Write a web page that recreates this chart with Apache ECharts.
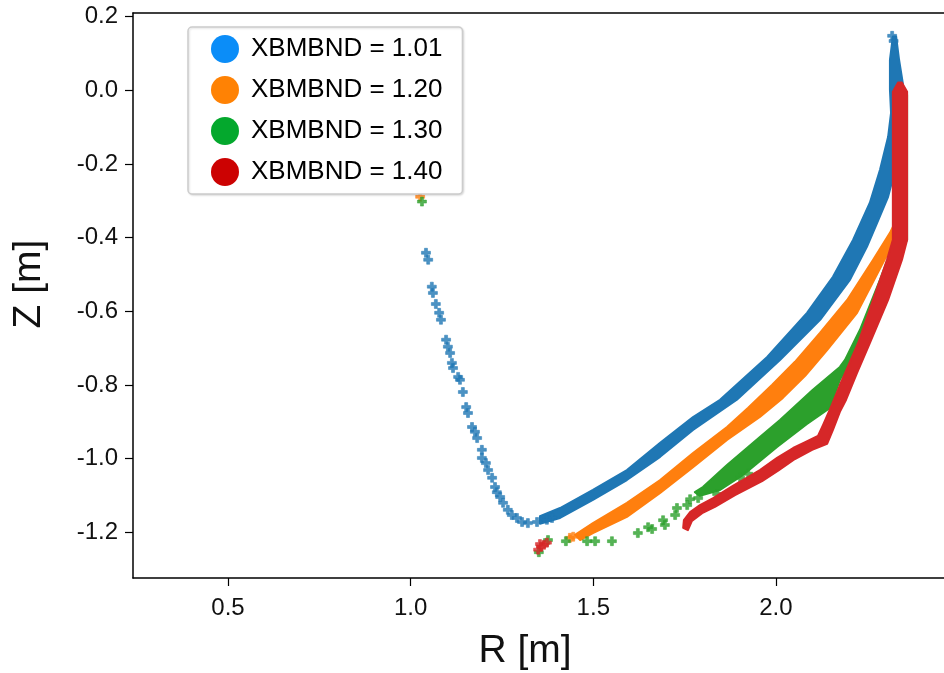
<!DOCTYPE html>
<html><head><meta charset="utf-8">
<script src="https://cdn.jsdelivr.net/npm/echarts@6/dist/echarts.min.js"></script>
<style>html,body{margin:0;padding:0;background:#fff}#c{width:944px;height:673px}</style>
</head><body><div id="c"></div>
<script>
// ---- data (R [m], Z [m]) ----
const seriesNames = ['XBMBND = 1.01', 'XBMBND = 1.20', 'XBMBND = 1.30', 'XBMBND = 1.40'];
const xTicks = [0.5, 1.0, 1.5, 2.0];
const yTicks = [0.2, 0.0, -0.2, -0.4, -0.6, -0.8, -1.0, -1.2];

// dense band outlines (outer edge then inner edge)
const blueBand = [[2.320,0.146],[2.312,0.083],[2.312,0.002],[2.315,-0.061],[2.307,-0.126],[2.285,-0.215],[2.257,-0.305],[2.211,-0.406],[2.156,-0.506],[2.085,-0.604],[1.976,-0.724],[1.847,-0.840],[1.773,-0.887],[1.683,-0.957],[1.592,-1.031],[1.499,-1.085],[1.409,-1.134],[1.354,-1.156],
 [1.354,-1.177],[1.409,-1.161],[1.499,-1.112],[1.592,-1.058],[1.683,-0.995],[1.773,-0.922],[1.893,-0.840],[2.011,-0.732],[2.121,-0.623],[2.203,-0.514],[2.249,-0.425],[2.277,-0.360],[2.307,-0.289],[2.334,-0.188],[2.345,-0.080],[2.348,0.015],[2.337,0.083],[2.329,0.146]];
const blueSparse = [[2.318,0.148],[2.322,0.134],[1.387,-1.161],[1.373,-1.166],[1.346,-1.172],[1.321,-1.175],[1.305,-1.172],[1.291,-1.161],[1.277,-1.153],[1.266,-1.139],[1.253,-1.120],[1.245,-1.104],[1.236,-1.091],[1.231,-1.077],[1.223,-1.052],[1.212,-1.031],[1.206,-1.012],[1.195,-0.998],[1.195,-0.976],[1.182,-0.944],[1.176,-0.927],[1.168,-0.914],[1.157,-0.876],[1.152,-0.860],[1.143,-0.819],[1.135,-0.786],[1.130,-0.778],[1.116,-0.754],[1.113,-0.740],[1.108,-0.713],[1.102,-0.696],[1.097,-0.677],[1.083,-0.623],[1.078,-0.604],[1.069,-0.580],[1.061,-0.550],[1.058,-0.533],[1.048,-0.460],[1.042,-0.441]];

const orangeBand = [[2.323,-0.025],[2.323,-0.365],[2.312,-0.387],[2.266,-0.460],[2.195,-0.569],[2.121,-0.658],[2.052,-0.737],[1.989,-0.800],[1.924,-0.862],[1.866,-0.914],[1.773,-0.985],[1.683,-1.058],[1.592,-1.120],[1.499,-1.175],[1.450,-1.207],
 [1.464,-1.221],[1.499,-1.202],[1.592,-1.158],[1.683,-1.093],[1.773,-1.023],[1.866,-0.949],[1.956,-0.887],[2.019,-0.835],[2.080,-0.775],[2.140,-0.705],[2.222,-0.604],[2.293,-0.468],[2.326,-0.406],[2.356,-0.365],[2.356,-0.025]];
const orangeSparse = [[1.026,-0.289],[1.436,-1.215],[1.445,-1.212]];

const greenBand = [[2.326,-0.012],[2.326,-0.406],[2.285,-0.514],[2.230,-0.650],[2.189,-0.732],[2.175,-0.751],[2.101,-0.813],[2.011,-0.895],[1.956,-0.941],[1.866,-1.017],[1.800,-1.077],[1.778,-1.091],
 [1.792,-1.101],[1.847,-1.085],[1.910,-1.044],[2.003,-0.968],[2.085,-0.906],[2.148,-0.862],[2.175,-0.786],[2.216,-0.718],[2.257,-0.677],[2.290,-0.561],[2.326,-0.460],[2.359,-0.406],[2.359,-0.012]];
const greenSparse = [[1.031,-0.302],[1.351,-1.254],[1.376,-1.221],[1.425,-1.224],[1.483,-1.224],[1.505,-1.224],[1.551,-1.224],[1.622,-1.202],[1.650,-1.186],[1.661,-1.191],[1.691,-1.167],[1.696,-1.180],[1.724,-1.153],[1.729,-1.134],[1.757,-1.126],[1.765,-1.110],[1.787,-1.107],[1.839,-1.096],[1.902,-1.052],[1.924,-1.041]];

const redBand = [[2.334,0.021],[2.320,-0.004],[2.320,-0.406],[2.304,-0.460],[2.266,-0.569],[2.225,-0.686],[2.175,-0.800],[2.153,-0.854],[2.129,-0.908],[2.115,-0.938],[2.080,-0.955],[2.047,-0.971],[2.003,-0.998],[1.956,-1.031],[1.882,-1.074],[1.828,-1.107],[1.792,-1.126],[1.765,-1.145],[1.748,-1.167],[1.746,-1.188],
 [1.759,-1.194],[1.770,-1.169],[1.798,-1.148],[1.833,-1.131],[1.888,-1.099],[1.962,-1.061],[2.008,-1.031],[2.052,-1.001],[2.099,-0.976],[2.140,-0.960],[2.156,-0.922],[2.175,-0.873],[2.192,-0.840],[2.222,-0.767],[2.257,-0.686],[2.307,-0.569],[2.345,-0.460],[2.359,-0.406],[2.359,-0.004],[2.345,0.021]];
const redSparse = [[1.349,-1.247],[1.354,-1.232],[1.357,-1.239],[1.365,-1.234],[1.373,-1.228]];

const seriesColors = ['#1f77b4', '#ff7f0e', '#2ca02c', '#d62728'];
const legendColors = ['#0b8df8', '#ff8204', '#04a82d', '#cc0202'];
const bands = [blueBand, orangeBand, greenBand, redBand];
const sparse = [blueSparse, orangeSparse, greenSparse, redSparse];

// ---- chart ----
const FONT = '"Liberation Sans", Arial, sans-serif';
const plus = 'path://M3,0H6V3H9V6H6V9H3V6H0V3H3Z';
const fmt = v => (Math.abs(v) < 1e-9 ? 0 : v).toFixed(1);

function bandRender(data) {
  return function (params, api) {
    if (params.dataIndex !== 0) return null;
    const pts = data.map(p => api.coord(p));
    const c = api.visual('color');
    return { type: 'polygon', shape: { points: pts, smooth: 0 }, style: { fill: c, stroke: c, lineWidth: 2, lineJoin: 'round' } };
  };
}

const series = [];
for (let i = 0; i < 4; i++) {
  series.push({
    name: seriesNames[i], type: 'custom', coordinateSystem: 'cartesian2d',
    data: bands[i], encode: { x: 0, y: 1 }, renderItem: bandRender(bands[i]),
    itemStyle: { color: seriesColors[i] }, silent: true, clip: true, z: 2 + i
  });
  series.push({
    name: seriesNames[i], type: 'scatter', data: sparse[i], symbol: plus, symbolSize: 9,
    itemStyle: { color: seriesColors[i], borderColor: seriesColors[i], borderWidth: 0.6 }, silent: true, z: 2 + i
  });
}

const chart = echarts.init(document.getElementById('c'), null, { renderer: 'canvas' });
chart.setOption({
  animation: false,
  backgroundColor: '#fff',
  grid: { left: 133, right: 0, top: 13, bottom: 95, containLabel: false, outerBoundsMode: 'none' },
  xAxis: [{
    type: 'value', min: 0.24, max: 2.46, position: 'bottom',
    axisLine: { show: true, onZero: false, lineStyle: { color: '#000', width: 1.5 } },
    axisTick: { show: true, customValues: xTicks, length: 8, lineStyle: { color: '#000', width: 1.2 } },
    axisLabel: { customValues: xTicks, formatter: fmt, fontSize: 24, color: '#111', margin: 18, fontFamily: FONT },
    splitLine: { show: false }
  }, {
    type: 'value', min: 0.24, max: 2.46, position: 'top',
    axisLine: { show: true, onZero: false, lineStyle: { color: '#000', width: 1.5 } },
    axisTick: { show: false }, axisLabel: { show: false }, splitLine: { show: false }
  }],
  yAxis: {
    type: 'value', min: -1.324, max: 0.21,
    axisLine: { show: true, onZero: false, lineStyle: { color: '#000', width: 1.5 } },
    axisTick: { show: true, customValues: yTicks, length: 8, lineStyle: { color: '#000', width: 1.2 } },
    axisLabel: { customValues: yTicks, formatter: fmt, fontSize: 24, color: '#111', margin: 15, fontFamily: FONT },
    splitLine: { show: false }
  },
  legend: {
    orient: 'vertical', left: 188, top: 27,
    padding: [8, 20, 8, 23], itemGap: 13, itemWidth: 28, itemHeight: 28,
    icon: 'circle', backgroundColor: '#fff', borderColor: '#cccccc', borderWidth: 1.5, borderRadius: 4,
    shadowColor: 'rgba(0,0,0,0.12)', shadowBlur: 2, shadowOffsetX: 1, shadowOffsetY: 1,
    textStyle: { fontSize: 26, color: '#000', fontFamily: FONT, padding: [0, 0, 0, 7], lineHeight: 28 },
    data: seriesNames.map((n, i) => ({ name: n, icon: 'circle', itemStyle: { color: legendColors[i] } })),
    selectedMode: false
  },
  graphic: [
    { type: 'text', x: 525, y: 651, style: { text: 'R [m]', align: 'center', verticalAlign: 'middle', fontSize: 39, fill: '#111', fontFamily: FONT } },
    { type: 'text', x: 29, y: 284, rotation: Math.PI / 2, style: { text: 'Z [m]', align: 'center', verticalAlign: 'middle', fontSize: 39, fill: '#111', fontFamily: FONT } }
  ],
  series: series
});
</script>
</body></html>
